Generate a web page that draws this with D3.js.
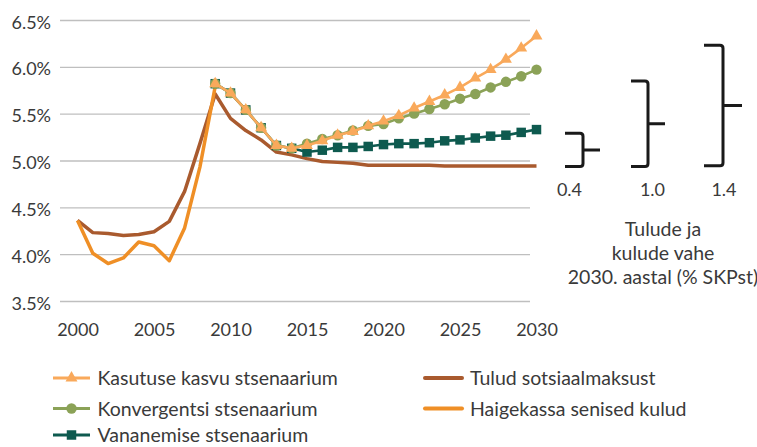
<!DOCTYPE html>
<html>
<head>
<meta charset="utf-8">
<script src="https://cdn.jsdelivr.net/npm/d3@7"></script>
<style>
  html, body { margin: 0; padding: 0; background: #fff; }
  svg { display: block; font-family: Lato, "Open Sans", sans-serif; }
</style>
</head>
<body>
<svg id="chart" width="757" height="447"></svg>
<script>
// ---- data ----
const years = d3.range(2000, 2031);
const yTicks = [3.5, 4.0, 4.5, 5.0, 5.5, 6.0, 6.5];
const xTicks = [2000, 2005, 2010, 2015, 2020, 2025, 2030];

// Tulud sotsiaalmaksust, 2000–2030
const tulud = [4.36, 4.23, 4.22, 4.20, 4.21, 4.24, 4.35, 4.67, 5.18, 5.71,
               5.45, 5.32, 5.22, 5.09, 5.06, 5.02, 4.99, 4.98, 4.97, 4.95,
               4.95, 4.95, 4.95, 4.95, 4.94, 4.94, 4.94, 4.94, 4.94, 4.94, 4.94];
// Haigekassa senised kulud, 2000–2009
const haigekassaYears = d3.range(2000, 2010);
const haigekassa = [4.36, 4.01, 3.90, 3.96, 4.13, 4.09, 3.93, 4.28, 4.93, 5.79];

// scenarios, 2009–2030
const scenYears = d3.range(2009, 2031);
const kasutuse = [5.82, 5.72, 5.54, 5.35, 5.16, 5.13,
                  5.16, 5.21, 5.27, 5.31, 5.37, 5.42, 5.48, 5.56, 5.63, 5.70,
                  5.78, 5.88, 5.97, 6.08, 6.20, 6.33];
const konvergentsi = [5.82, 5.72, 5.54, 5.35, 5.16, 5.13,
                      5.18, 5.23, 5.27, 5.32, 5.37, 5.39, 5.45, 5.50, 5.55, 5.60,
                      5.66, 5.71, 5.78, 5.84, 5.90, 5.97];
const vananemise = [5.82, 5.72, 5.54, 5.35, 5.16, 5.13,
                    5.09, 5.11, 5.14, 5.14, 5.15, 5.17, 5.18, 5.18, 5.19, 5.21,
                    5.22, 5.24, 5.26, 5.27, 5.30, 5.33];

// gap annotations (revenue vs spending in 2030)
const gapLabels = ["0.4", "1.0", "1.4"];
const gapLow = [4.935, 4.935, 4.945];
const gapHigh = [5.29, 5.85, 6.23];

const annotationLines = ["Tulude ja", "kulude vahe", "2030. aastal (% SKPst)"];

// ---- styles ----
const C = {
  kasutuse: "#F9A95B",
  konvergentsi: "#8BA257",
  vananemise: "#0E5A4F",
  tulud: "#A95A2E",
  haigekassa: "#EF8F26",
  grid: "#BFBFBF",
  text: "#3A3A3A"
};

const svg = d3.select("#chart");
const x = d3.scaleLinear().domain([2000, 2030]).range([77.5, 536.5]);
const y = d3.scaleLinear().domain([3.5, 6.5]).range([301, 20]);

// gridlines + y labels
const yAxis = d3.axisLeft(y).tickValues(yTicks).tickSize(-470).tickPadding(9)
  .tickFormat(d => d.toFixed(1) + "%");
const gy = svg.append("g").attr("transform", "translate(60,0)").call(yAxis);
gy.select(".domain").remove();
gy.selectAll(".tick line").attr("stroke", C.grid).attr("stroke-width", 1.3);
gy.selectAll(".tick text").attr("fill", C.text).attr("font-size", 18)
  .attr("font-family", "Lato").attr("dy", "0.45em");

// x labels
const xAxis = d3.axisBottom(x).tickValues(xTicks).tickSize(0).tickPadding(0)
  .tickFormat(d3.format("d"));
const gx = svg.append("g").attr("transform", "translate(0,323.5)").call(xAxis);
gx.select(".domain").remove();
gx.selectAll(".tick text").attr("fill", C.text).attr("font-size", 18)
  .attr("font-family", "Lato");

const line = d3.line().x(d => x(d[0])).y(d => y(d[1]));

// Tulud sotsiaalmaksust
svg.append("path").datum(years.map((yr, i) => [yr, tulud[i]]))
  .attr("d", line).attr("fill", "none").attr("stroke", C.tulud)
  .attr("stroke-width", 3.5).attr("stroke-linejoin", "round");

// Haigekassa senised kulud
svg.append("path").datum(haigekassaYears.map((yr, i) => [yr, haigekassa[i]]))
  .attr("d", line).attr("fill", "none").attr("stroke", C.haigekassa)
  .attr("stroke-width", 3.5).attr("stroke-linejoin", "round");

function scenario(values, color, symType, size) {
  const pts = scenYears.map((yr, i) => [yr, values[i]]);
  const g = svg.append("g");
  g.append("path").datum(pts).attr("d", line).attr("fill", "none")
    .attr("stroke", color).attr("stroke-width", 2.6).attr("stroke-linejoin", "round");
  g.selectAll("path.m").data(pts).join("path").attr("class", "m")
    .attr("transform", d => `translate(${x(d[0])},${y(d[1])})`)
    .attr("d", d3.symbol().type(symType).size(size))
    .attr("fill", color);
}
scenario(vananemise, C.vananemise, d3.symbolSquare, 90);
scenario(konvergentsi, C.konvergentsi, d3.symbolCircle, 85);
scenario(kasutuse, C.kasutuse, d3.symbolTriangle, 62);

// braces
const braceX = [565, 631, 704];   // left end of each bracket
const braceW = [18, 17, 19];      // width to the vertical stroke
const braceSpike = [17, 17, 19];  // length of middle spike
const labelX = [569.5, 652.5, 724];
gapLabels.forEach((lab, i) => {
  const x0 = braceX[i], x1 = x0 + braceW[i];
  const yt = y(gapHigh[i]), yb = y(gapLow[i]), ym = (yt + yb) / 2;
  const r = 3;
  const p = d3.path();
  p.moveTo(x0, yt);
  p.lineTo(x1 - r, yt);
  p.quadraticCurveTo(x1, yt, x1, yt + r);
  p.lineTo(x1, yb - r);
  p.quadraticCurveTo(x1, yb, x1 - r, yb);
  p.lineTo(x0, yb);
  p.moveTo(x1, ym);
  p.lineTo(x1 + braceSpike[i], ym);
  svg.append("path").attr("d", p.toString()).attr("fill", "none")
    .attr("stroke", "#1A1A1A").attr("stroke-width", 3).attr("stroke-linecap", "butt");
  svg.append("text").attr("x", labelX[i]).attr("y", 196).attr("text-anchor", "middle")
    .attr("font-size", 18).attr("fill", C.text).text(lab);
});

// annotation
const annY = [236, 260, 283.5];
annotationLines.forEach((t, i) => {
  svg.append("text").attr("x", 663).attr("y", annY[i]).attr("text-anchor", "middle")
    .attr("font-size", 19.5).attr("fill", C.text).text(t);
});

// legend
const legendItems = [
  {name: "Kasutuse kasvu stsenaarium", color: C.kasutuse, sym: d3.symbolTriangle, size: 62, col: 0, row: 0},
  {name: "Konvergentsi stsenaarium", color: C.konvergentsi, sym: d3.symbolCircle, size: 85, col: 0, row: 1},
  {name: "Vananemise stsenaarium", color: C.vananemise, sym: d3.symbolSquare, size: 90, col: 0, row: 2},
  {name: "Tulud sotsiaalmaksust", color: C.tulud, sym: null, col: 1, row: 0},
  {name: "Haigekassa senised kulud", color: C.haigekassa, sym: null, col: 1, row: 1}
];
const colX = [53, 425];
const rowY = [378, 408.5, 435];
legendItems.forEach(it => {
  const g = svg.append("g").attr("transform", `translate(${colX[it.col]},${rowY[it.row]})`);
  g.append("line").attr("x1", 0).attr("x2", 37).attr("y1", 0).attr("y2", 0)
    .attr("stroke", it.color).attr("stroke-width", it.sym ? 3 : 4)
    .attr("stroke-linecap", it.sym ? "butt" : "round");
  if (it.sym) {
    g.append("path").attr("transform", "translate(18.5,0)")
      .attr("d", d3.symbol().type(it.sym).size(it.size)).attr("fill", it.color);
  }
  g.append("text").attr("x", it.sym ? 44.5 : 45).attr("y", 7)
    .attr("font-size", 19.5).attr("fill", C.text).text(it.name);
});
</script>
</body>
</html>
